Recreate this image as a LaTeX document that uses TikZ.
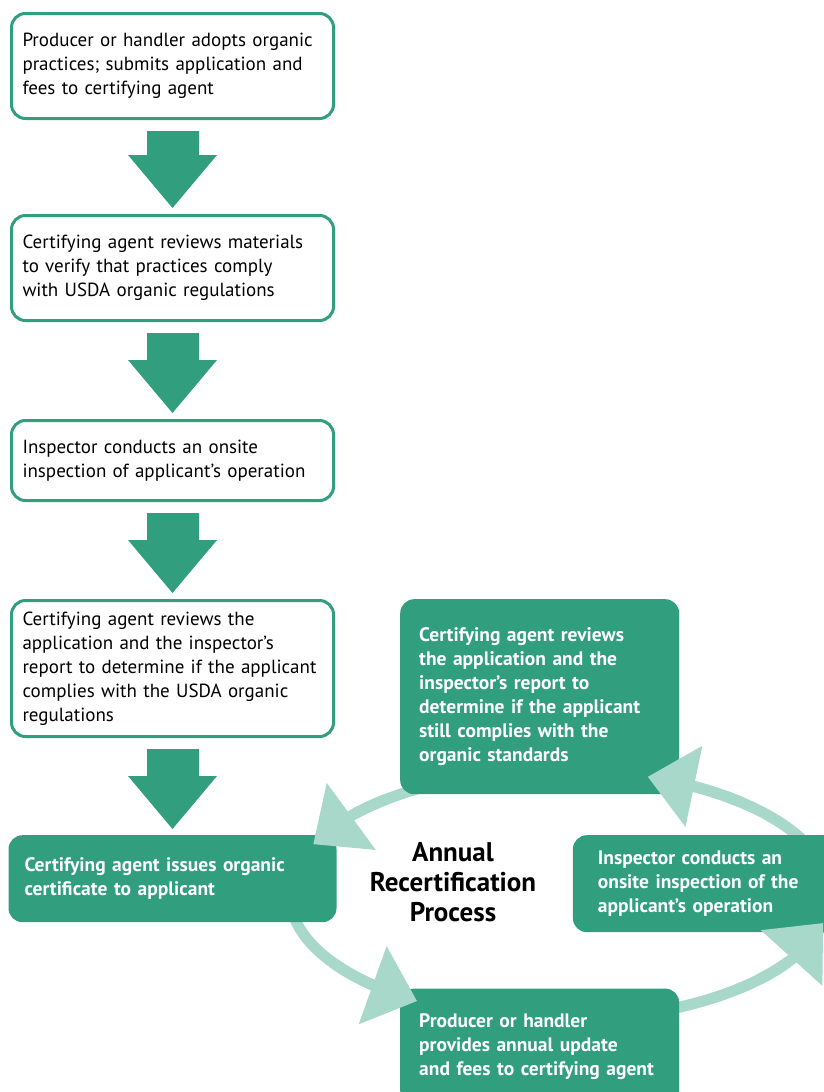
\documentclass[tikz,border=0pt]{standalone}
\usepackage{fontspec}
\setmainfont{PT Sans}
\usetikzlibrary{positioning, arrows.meta, bending}

\definecolor{usdagreen}{RGB}{49,158,125}
\definecolor{ringgreen}{RGB}{168,216,201}

\begin{document}
\begin{tikzpicture}[
    x=1pt, y=-1pt,
    font=\fontsize{19}{24}\selectfont,
    stepbox/.style={draw=usdagreen, line width=3pt, rounded corners=14pt, fill=white,
        text width=300pt, inner xsep=11pt, inner ysep=2pt, align=left},
    cyclebox/.style={fill=usdagreen, rounded corners=14pt, text=white,
        font=\fontsize{19.5}{24}\selectfont\bfseries, inner ysep=2pt, align=left},
    flowarrow/.style={color=usdagreen, line width=52pt,
        -{Triangle[width=89pt, length=53pt, line width=0pt]}},
    ring/.style={color=ringgreen, line width=11pt},
    ringtip/.style={ring, -{Triangle[width=83pt, length=47pt, line width=0pt]}}
]
    \useasboundingbox (0,0) rectangle (823,1092);

    % Recertification ring (behind the boxes)
    \coordinate (ringc) at (560,895);
    \draw[ring] (ringc) ellipse [x radius=270, y radius=125];

    % Initial certification steps
    \node[stepbox, minimum height=105pt] (apply) at (172.5,66)
        {Producer or handler adopts organic\\practices; submits application and\\fees to certifying agent};
    \node[stepbox, minimum height=105pt, below=94pt of apply] (review)
        {Certifying agent reviews materials\\to verify that practices comply\\with USDA organic regulations};
    \node[stepbox, minimum height=80pt, below=97pt of review] (inspect)
        {Inspector conducts an onsite\\inspection of applicant’s operation};
    \node[stepbox, minimum height=136pt, below=97pt of inspect] (decide)
        {Certifying agent reviews the\\application and the inspector’s\\report to determine if the applicant\\complies with the USDA organic\\regulations};
    \node[cyclebox, minimum height=87pt, text width=296pt, inner xsep=16pt,
        below=97pt of decide] (issue)
        {Certifying agent issues organic\\certificate to applicant};

    % Annual recertification
    \node[cyclebox, minimum height=195pt, text width=241pt, inner xsep=19pt,
        right=65pt of decide.north east, anchor=north west] (recheck)
        {Certifying agent reviews\\the application and the\\inspector’s report to\\determine if the applicant\\still complies with the\\organic standards};
    \node[cyclebox, minimum height=97pt, text width=215pt, inner xsep=25pt,
        right=236pt of issue.north east, anchor=north west] (reinspect)
        {Inspector conducts an\\onsite inspection of the\\applicant’s operation};
    \node[cyclebox, minimum height=116pt, text width=241pt, inner xsep=19pt,
        below=194pt of recheck.south west, anchor=north west] (update)
        {Producer or handler\\provides annual update\\and fees to certifying agent};
    \node[font=\fontsize{27}{30}\selectfont\bfseries, align=center] (cycle) at (453,882)
        {Annual\\Recertification\\Process};

    % Flow arrows
    \draw[flowarrow] ([yshift=-11pt]apply.south) -- ([yshift=6pt]review.north);
    \draw[flowarrow] ([yshift=-11pt]review.south) -- ([yshift=6pt]inspect.north);
    \draw[flowarrow] ([yshift=-11pt]inspect.south) -- ([yshift=6pt]decide.north);
    \draw[flowarrow] ([yshift=-11pt]decide.south) -- ([yshift=6pt]issue.north);

    % Ring arrow heads
    \foreach \from/\to in {-48/-71, -130/-156, -213/-238, -318/-347}
        \draw[ringtip] (ringc) ++(\from:270 and 125)
            arc[start angle=\from, end angle=\to, x radius=270, y radius=125];
\end{tikzpicture}
\end{document}
